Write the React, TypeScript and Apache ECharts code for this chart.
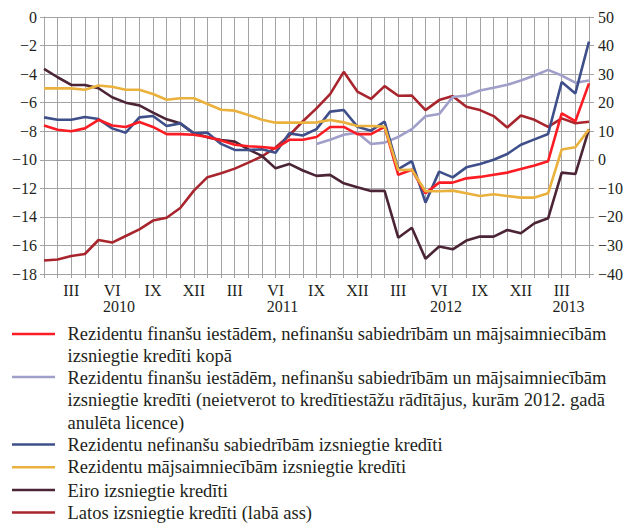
import React, { useEffect, useRef } from 'react';
import * as echarts from 'echarts';

const romanMonths = ['I', 'II', 'III', 'IV', 'V', 'VI', 'VII', 'VIII', 'IX', 'X', 'XI', 'XII'];
const years = ['2010', '2011', '2012', '2013'];
const shownMonths = ['III', 'VI', 'IX', 'XII'];
const yearLabelPositions = [5.5, 17.5, 29.5, 38.5];

const categories: string[] = [];
for (let i = 0; i < 41; i++) categories.push(romanMonths[i % 12] + ' ' + years[Math.floor(i / 12)]);

// left axis series (annual change, %)
const totalLoans = [
  -7.6, -7.9, -8.0, -7.8, -7.2, -7.6, -7.7, -7.35, -7.7, -8.2,
  -8.2, -8.25, -8.4, -8.65, -8.95, -9.05, -9.1, -9.2, -8.6, -8.6,
  -8.4, -7.7, -7.7, -8.2, -8.2, -7.7, -11.05, -10.7, -12.35, -11.6,
  -11.6, -11.3, -11.2, -11.05, -10.9, -10.65, -10.4, -10.1, -6.75, -7.3,
  -4.65,
];
const totalLoansExcl = [
  null, null, null, null, null, null, null, null, null, null,
  null, null, null, null, null, null, null, null, null, null,
  -8.9, -8.6, -8.25, -8.1, -8.9, -8.8, -8.4, -7.85, -6.95, -6.8,
  -5.6, -5.5, -5.15, -4.95, -4.75, -4.45, -4.1, -3.7, -4.1, -4.6,
  -4.45,
];
const corporateLoans = [
  -7.03, -7.2, -7.2, -7.0, -7.15, -7.8, -8.1, -7.03, -6.93, -7.63,
  -7.45, -8.15, -8.1, -8.89, -9.31, -9.31, -9.27, -9.5, -8.15, -8.3,
  -7.85, -6.63, -6.51, -7.68, -7.96, -7.33, -10.65, -10.1, -13.0, -10.83,
  -11.23, -10.53, -10.3, -10.0, -9.6, -8.95, -8.57, -8.19, -4.55, -5.35,
  -1.73,
];
const householdLoans = [
  -5.0, -5.0, -5.0, -5.1, -4.8, -4.88, -5.1, -5.1, -5.39, -5.8,
  -5.69, -5.69, -6.09, -6.5, -6.56, -6.86, -7.2, -7.4, -7.4, -7.4,
  -7.38, -7.21, -7.38, -7.63, -7.63, -7.68, -10.72, -10.7, -12.2, -12.2,
  -12.16, -12.35, -12.54, -12.42, -12.54, -12.65, -12.65, -12.35, -9.28, -9.12,
  -7.87,
];
const euroLoans = [
  -3.64, -4.22, -4.76, -4.76, -4.99, -5.62, -6.0, -6.19, -6.7, -7.17,
  -7.45, -8.15, -8.43, -8.61, -8.73, -9.27, -9.73, -10.6, -10.29, -10.75,
  -11.13, -11.06, -11.65, -11.93, -12.18, -12.18, -15.46, -14.76, -16.93, -16.08,
  -16.27, -15.66, -15.38, -15.38, -14.92, -15.15, -14.45, -14.1, -10.9, -11.0,
  -7.85,
];
// right axis series
const latsLoans = [
  -35.3, -34.9, -33.7, -33.0, -28.1, -29.0, -26.7, -24.4, -21.3, -20.3,
  -16.9, -10.8, -6.1, -4.7, -3.1, -1.0, 1.2, 4.3, 8.5, 13.5,
  18.0, 23.0, 30.8, 23.9, 21.3, 25.8, 22.4, 22.5, 17.4, 20.9,
  22.3, 18.6, 17.4, 15.3, 11.3, 15.5, 14.0, 11.5, 14.5, 12.8,
  13.3,
];

const seriesNames = [
  'Rezidentu finanšu iestādēm, nefinanšu sabiedrībām un mājsaimniecībām\nizsniegtie kredīti kopā',
  'Rezidentu finanšu iestādēm, nefinanšu sabiedrībām un mājsaimniecībām\nizsniegtie kredīti (neietverot to kredītiestāžu rādītājus, kurām 2012. gadā\nanulēta licence)',
  'Rezidentu nefinanšu sabiedrībām izsniegtie kredīti',
  'Rezidentu mājsaimniecībām izsniegtie kredīti',
  'Eiro izsniegtie kredīti',
  'Latos izsniegtie kredīti (labā ass)',
];
const seriesColors = ['#fb1c24', '#a09fc9', '#3f4f8a', '#ebb13d', '#4b2535', '#a8252e'];
const legendLineY = [334, 377, 444.5, 467.3, 490, 512.5];
const legendTextTop = [322.5, 366.5, 433.5, 456, 480, 502];

const FONT = '"Liberation Serif", "Times New Roman", serif';
const GRID_COLOR = '#a3a3a3';
const TEXT_COLOR = '#231f20';

const fmtNeg = (v: number) => (v < 0 ? '\u2212' + Math.abs(v) : String(v));

export default function App() {
  const ref = useRef<HTMLDivElement>(null);
  useEffect(() => {
    if (!ref.current) return;
    const chart = echarts.init(ref.current, undefined, { renderer: 'svg' });
    const lineSeries = (name: string, data: (number | null)[], color: string, yAxisIndex: number, z: number) => ({
      type: 'line',
      name,
      data,
      yAxisIndex,
      xAxisIndex: 0,
      symbol: 'none',
      z,
      lineStyle: { color, width: 2.6 },
      itemStyle: { color },
      connectNulls: false,
    });
    const graphics: any[] = [];
    seriesNames.forEach((n, i) => {
      graphics.push({
        type: 'line',
        shape: { x1: 12, y1: legendLineY[i], x2: 55, y2: legendLineY[i] },
        style: { stroke: seriesColors[i], lineWidth: 2.6 },
      });
      graphics.push({
        type: 'text',
        x: 67.5,
        y: legendTextTop[i],
        style: {
          text: n,
          fontSize: 18.5,
          fontFamily: FONT,
          fill: TEXT_COLOR,
          lineHeight: 22.4,
          verticalAlign: 'top',
          align: 'left',
        },
      });
    });
    chart.setOption({
      animation: false,
      backgroundColor: '#ffffff',
      grid: { left: 44, right: 35, top: 17, bottom: 252, containLabel: false },
      xAxis: [
        {
          type: 'category',
          data: categories,
          boundaryGap: false,
          position: 'bottom',
          axisLine: { show: true, onZero: false, lineStyle: { color: GRID_COLOR, width: 1 } },
          axisTick: { show: true, interval: 0, length: 4, lineStyle: { color: GRID_COLOR } },
          splitLine: { show: true, interval: 0, lineStyle: { color: GRID_COLOR, width: 1 } },
          axisLabel: {
            interval: (index: number, value: string) => shownMonths.indexOf(value.split(' ')[0]) >= 0,
            formatter: (value: string) => value.split(' ')[0],
            fontSize: 16,
            fontFamily: FONT,
            color: TEXT_COLOR,
            margin: 8,
          },
        },
        {
          type: 'value',
          min: 0,
          max: 40,
          position: 'bottom',
          axisLine: { show: false, onZero: false },
          axisTick: { show: false },
          splitLine: { show: false },
          axisLabel: {
            customValues: yearLabelPositions,
            formatter: (v: number) => years[yearLabelPositions.indexOf(v)] ?? '',
            fontSize: 16,
            fontFamily: FONT,
            color: TEXT_COLOR,
            margin: 24,
          },
        },
      ],
      yAxis: [
        {
          type: 'value',
          min: -18,
          max: 0,
          interval: 2,
          position: 'left',
          axisLine: { show: true, lineStyle: { color: GRID_COLOR } },
          axisTick: { show: true, length: 4, lineStyle: { color: GRID_COLOR } },
          splitLine: { show: true, lineStyle: { color: GRID_COLOR, width: 1 } },
          axisLabel: { formatter: fmtNeg, fontSize: 16, fontFamily: FONT, color: TEXT_COLOR, margin: 7 },
        },
        {
          type: 'value',
          min: -40,
          max: 50,
          interval: 10,
          position: 'right',
          axisLine: { show: true, lineStyle: { color: GRID_COLOR } },
          axisTick: { show: true, length: 5, lineStyle: { color: GRID_COLOR } },
          splitLine: { show: false },
          axisLabel: { formatter: fmtNeg, fontSize: 16, fontFamily: FONT, color: TEXT_COLOR, margin: 9 },
        },
      ],
      series: [
        lineSeries(seriesNames[5], latsLoans, seriesColors[5], 1, 2),
        lineSeries(seriesNames[4], euroLoans, seriesColors[4], 0, 3),
        lineSeries(seriesNames[1], totalLoansExcl, seriesColors[1], 0, 4),
        lineSeries(seriesNames[2], corporateLoans, seriesColors[2], 0, 5),
        lineSeries(seriesNames[0], totalLoans, seriesColors[0], 0, 6),
        lineSeries(seriesNames[3], householdLoans, seriesColors[3], 0, 7),
      ],
      graphic: graphics,
    });
    return () => chart.dispose();
  }, []);
  return (
    <div
      ref={ref}
      style={{ position: 'fixed', left: 0, top: 0, width: 626, height: 526, background: '#fff' }}
    />
  );
}
